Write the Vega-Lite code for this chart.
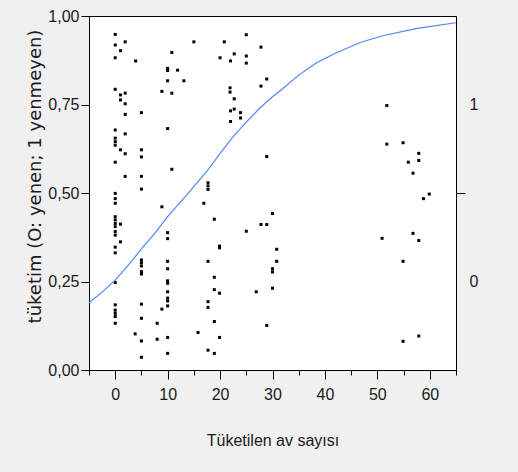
{
 "$schema": "https://vega.github.io/schema/vega-lite/v6.json",
 "width": 367,
 "height": 354,
 "autosize": {"type": "none"},
 "padding": {"left": 89, "top": 16, "right": 62, "bottom": 102},
 "background": "#f0f0f0",
 "config": {
  "view": {"stroke": "#000", "strokeWidth": 1, "fill": "white"},
  "font": "Liberation Sans",
  "axis": {"labelFont": "Liberation Sans", "labelFontSize": 16, "labelColor": "#1a1a1a", "titleFont": "Liberation Sans", "titleFontSize": 16, "titleFontWeight": "normal", "titleColor": "#1a1a1a", "domainColor": "#000", "tickColor": "#000", "grid": false, "labelOverlap": false}
 },
 "datasets": {
  "pts": [
   {"x":0,"y":0.948},{"x":0,"y":0.918},{"x":0,"y":0.882},{"x":0,"y":0.793},{"x":0,"y":0.678},{"x":0,"y":0.655},{"x":0,"y":0.645},{"x":0,"y":0.635},{"x":0,"y":0.587},{"x":0,"y":0.499},{"x":0,"y":0.484},{"x":0,"y":0.471},{"x":0,"y":0.433},{"x":0,"y":0.424},{"x":0,"y":0.414},{"x":0,"y":0.405},{"x":0,"y":0.391},{"x":0,"y":0.381},{"x":0,"y":0.347},{"x":0,"y":0.331},{"x":0,"y":0.247},{"x":0,"y":0.184},{"x":0,"y":0.169},{"x":0,"y":0.16},{"x":0,"y":0.151},{"x":0,"y":0.132},
   {"x":1,"y":0.902},{"x":1,"y":0.777},{"x":1,"y":0.763},{"x":1,"y":0.622},{"x":1,"y":0.412},{"x":1,"y":0.362},
   {"x":1.9,"y":0.927},{"x":1.9,"y":0.782},{"x":1.9,"y":0.752},{"x":1.9,"y":0.722},{"x":1.9,"y":0.667},{"x":1.9,"y":0.611},{"x":1.9,"y":0.547},
   {"x":3.9,"y":0.873},{"x":3.8,"y":0.102},
   {"x":5,"y":0.727},{"x":5,"y":0.622},{"x":5,"y":0.602},{"x":5,"y":0.547},{"x":5,"y":0.511},{"x":5,"y":0.311},{"x":5,"y":0.303},{"x":5,"y":0.294},{"x":5,"y":0.278},{"x":5,"y":0.271},{"x":5,"y":0.186},{"x":5,"y":0.146},{"x":5,"y":0.082},{"x":5,"y":0.036},
   {"x":8,"y":0.132},{"x":8,"y":0.087},
   {"x":8.9,"y":0.787},{"x":8.9,"y":0.461},{"x":8.9,"y":0.172},
   {"x":10,"y":0.852},{"x":10,"y":0.846},{"x":10,"y":0.817},{"x":10,"y":0.682},{"x":10,"y":0.388},{"x":10,"y":0.371},{"x":10,"y":0.307},{"x":10,"y":0.286},{"x":10,"y":0.252},{"x":10,"y":0.245},{"x":10,"y":0.221},{"x":10,"y":0.203},{"x":10,"y":0.195},{"x":10,"y":0.181},{"x":10,"y":0.092},{"x":10,"y":0.047},
   {"x":10.8,"y":0.897},{"x":10.8,"y":0.782},{"x":10.8,"y":0.567},
   {"x":11.9,"y":0.847},{"x":13.1,"y":0.817},{"x":15,"y":0.927},{"x":15.8,"y":0.106},{"x":16.9,"y":0.471},
   {"x":17.7,"y":0.529},{"x":17.7,"y":0.52},{"x":17.7,"y":0.51},{"x":17.7,"y":0.307},{"x":17.7,"y":0.193},{"x":17.7,"y":0.177},{"x":17.7,"y":0.056},
   {"x":18.9,"y":0.426},{"x":18.9,"y":0.262},{"x":18.9,"y":0.227},{"x":18.9,"y":0.137},{"x":18.9,"y":0.047},
   {"x":19.9,"y":0.35},{"x":19.9,"y":0.345},{"x":19.9,"y":0.217},{"x":19.9,"y":0.092},
   {"x":20,"y":0.882},{"x":20.8,"y":0.927},
   {"x":21.9,"y":0.797},{"x":21.9,"y":0.785},
   {"x":22,"y":0.873},{"x":22,"y":0.732},{"x":22,"y":0.702},
   {"x":22.7,"y":0.893},{"x":22.7,"y":0.766},{"x":22.7,"y":0.737},
   {"x":23.9,"y":0.727},{"x":23.9,"y":0.712},
   {"x":25,"y":0.947},{"x":25,"y":0.887},{"x":25,"y":0.867},{"x":25,"y":0.392},
   {"x":26.9,"y":0.221},
   {"x":27.8,"y":0.912},{"x":27.8,"y":0.802},{"x":27.8,"y":0.411},
   {"x":28.9,"y":0.822},{"x":28.9,"y":0.603},{"x":28.9,"y":0.411},{"x":28.9,"y":0.126},
   {"x":30,"y":0.442},{"x":30,"y":0.286},{"x":30,"y":0.277},{"x":30,"y":0.231},
   {"x":30.8,"y":0.341},{"x":30.8,"y":0.307},
   {"x":50.9,"y":0.372},
   {"x":51.8,"y":0.747},{"x":51.8,"y":0.638},
   {"x":54.9,"y":0.642},{"x":54.9,"y":0.307},{"x":54.9,"y":0.081},
   {"x":55.9,"y":0.587},
   {"x":56.8,"y":0.556},{"x":56.8,"y":0.386},
   {"x":57.9,"y":0.612},{"x":57.9,"y":0.592},{"x":57.9,"y":0.366},{"x":57.9,"y":0.096},
   {"x":58.8,"y":0.484},{"x":59.9,"y":0.497}
  ],
  "curve": [
   {"x":-5,"p":0.19},{"x":-2.5,"p":0.22},{"x":0,"p":0.254},{"x":2.5,"p":0.296},{"x":5,"p":0.342},{"x":7.5,"p":0.385},{"x":10,"p":0.433},{"x":13.6,"p":0.494},{"x":17.7,"p":0.565},{"x":20,"p":0.612},{"x":22.5,"p":0.659},{"x":25,"p":0.7},{"x":27.6,"p":0.74},{"x":30,"p":0.772},{"x":32,"p":0.795},{"x":35,"p":0.833},{"x":38.4,"p":0.868},{"x":42,"p":0.895},{"x":46.7,"p":0.925},{"x":51.2,"p":0.945},{"x":57.6,"p":0.965},{"x":65,"p":0.981}
  ]
 },
 "layer": [
  {
   "data": {"name": "pts"},
   "mark": {"type": "square", "size": 9, "color": "#000", "opacity": 1, "filled": true},
   "encoding": {
    "x": {"field": "x", "type": "quantitative",
     "scale": {"domain": [-5, 65], "nice": false, "zero": false},
     "axis": {"values": [0,10,20,30,40,50,60],
      "tickSize": 9, "labelPadding": 7, "labelFlush": false, "offset": 0,
      "title": "Tüketilen av sayısı", "titleY": 75, "titleBaseline": "alphabetic"}},
    "y": {"field": "y", "type": "quantitative",
     "scale": {"domain": [0, 1], "nice": false},
     "axis": {"orient": "left", "values": [0,0.25,0.5,0.75,1],
      "labelExpr": "replace(format(datum.value, '.2f'), '.', ',')",
      "tickSize": 8, "labelPadding": 2,
      "title": "tüketim (O: yenen; 1 yenmeyen)",
      "titleFont": "DejaVu Sans", "titleFontSize": 18,
      "titleX": -54, "titleY": 160, "titleAngle": -90, "titleAlign": "center", "titleBaseline": "middle"}}
   }
  },
  {
   "data": {"name": "curve"},
   "mark": {"type": "line", "color": "#4f86f7", "strokeWidth": 1.2},
   "encoding": {
    "x": {"field": "x", "type": "quantitative",
     "axis": {"orient": "bottom", "values": [-5,5,15,25,35,45,55,65], "tickSize": 5, "labels": false, "domain": false, "title": null, "offset": 0}},
    "y": {"field": "p", "type": "quantitative",
     "axis": {"orient": "right", "values": [0.25,0.5,0.75],
      "labelExpr": "datum.value == 0.75 ? '1' : (datum.value == 0.25 ? '0' : '')",
      "tickSize": 9,
      "tickColor": {"condition": {"test": "datum.value == 0.5", "value": "#000"}, "value": "transparent"},
      "labelPadding": 4, "title": null}}
   }
  }
 ],
 "resolve": {"axis": {"x": "independent", "y": "independent"}}
}
